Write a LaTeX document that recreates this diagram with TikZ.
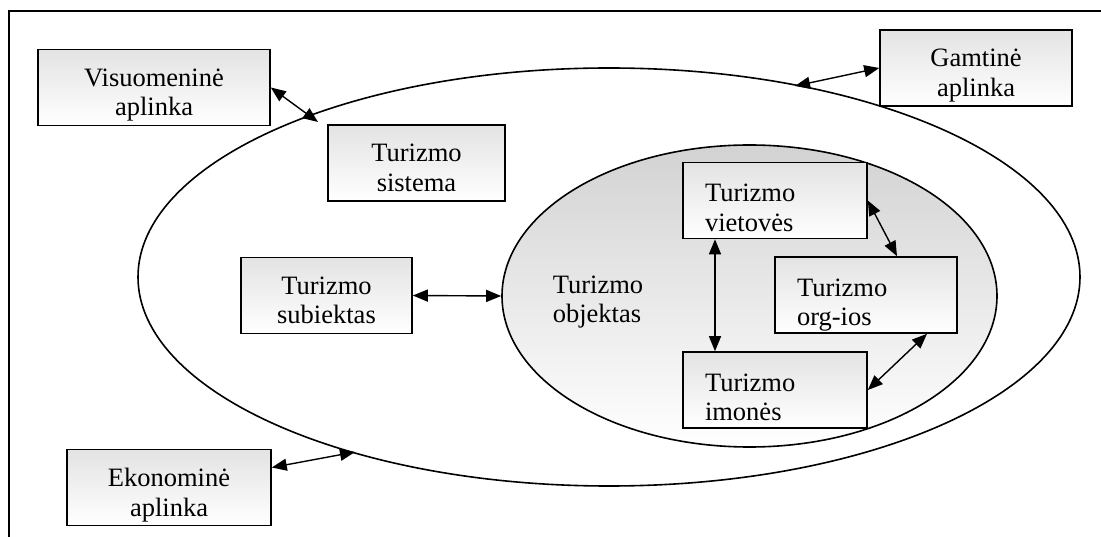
\documentclass[tikz,border=0pt]{standalone}
\usepackage{fontspec}
\setmainfont{Liberation Serif}
\usetikzlibrary{arrows.meta,positioning,shapes.geometric}

\begin{document}
\begin{tikzpicture}[x=1pt, y=-1pt,
  box/.style={draw, line width=1.6pt, top color=gray!22, bottom color=white, align=center, minimum height=76pt, inner sep=0pt, text height=57pt, text depth=0pt, font=\fontsize{26.5}{29.5}\selectfont},
  inbox/.style={box, align=left, text width=140pt, inner xsep=22pt, text height=3pt},
  arrow/.style={{Triangle[length=15pt,width=12pt]}-{Triangle[length=15pt,width=12pt]}, line width=1.4pt}
]
\useasboundingbox (0,0) rectangle (1101,537);
\draw[line width=1.6pt] (1101,11) -- (9,11) -- (9,537);

% system ellipses
\node[ellipse, draw, line width=1.6pt, minimum width=942pt, minimum height=418pt] (outer) at (609,277) {};
\node[ellipse, draw, line width=1.6pt, top color=gray!35, bottom color=white, minimum width=495pt, minimum height=302pt] (inner) at (749.5,296) {};
\node[align=left, inner sep=0pt, text height=57pt, text depth=0pt, font=\fontsize{26.5}{29.5}\selectfont] (objektas) at (598,294.5) {Turizmo\\objektas};

% environment
\node[box, minimum width=232pt] (visu) at (154,87.5) {Visuomeninė\\aplinka};
\node[box, minimum width=192pt] (gamt) at (976,68) {Gamtinė\\aplinka};
\node[box, minimum width=204pt] (ekon) at (169,487.5) {Ekonominė\\aplinka};

\node[box, minimum width=177pt] (sistema) at (416.5,163) {Turizmo\\sistema};
\node[box, minimum width=171pt] (subj) at (326.5,295.5) {Turizmo\\subiektas};

% object parts
\node[inbox] (vietoves) at (775,200.5) {Turizmo\\vietovės};
\node[inbox, text width=138pt] (orgios) at (866,295) {Turizmo\\org-ios};
\node[inbox] (imones) at (775,390) {Turizmo\\imonės};

\coordinate (visuend) at (318,122);
\coordinate (gamtend) at (795,86);
\coordinate (ekonend) at (355,452);

\draw[arrow] (visu.east) -- (visuend);
\draw[arrow] (gamt.west) -- (gamtend);
\draw[arrow] ([yshift=20pt]ekon.east) -- (ekonend);
\draw[arrow] (subj.east) -- (inner.west);
\draw[arrow] ([xshift=-60pt]vietoves.south) -- ([xshift=-60pt]imones.north);
\draw[arrow] (vietoves.east) -- ([xshift=31pt]orgios.north);
\draw[arrow] ([xshift=61pt]orgios.south) -- (imones.east);

\end{tikzpicture}
\end{document}
